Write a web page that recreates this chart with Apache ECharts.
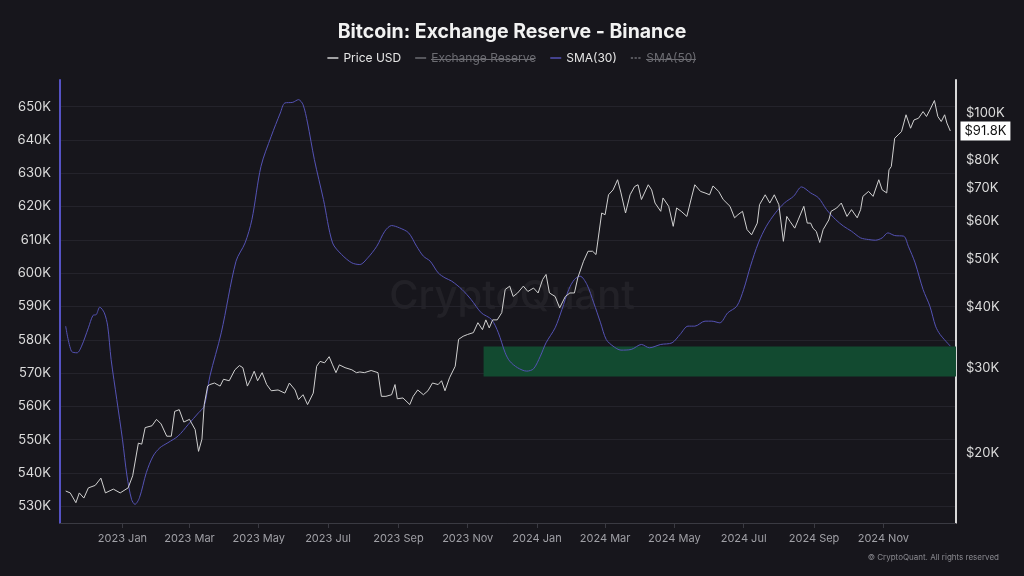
<!DOCTYPE html>
<html>
<head>
<meta charset="utf-8">
<script src="https://cdn.jsdelivr.net/npm/echarts@6/dist/echarts.min.js"></script>
<style>
  html, body { margin: 0; padding: 0; background: #17161c; }
  #main { width: 1024px; height: 576px; }
</style>
</head>
<body>
<div id="main"></div>
<script>
var myChart = echarts.init(document.getElementById('main'));

// BTC price (USD)
var priceDates = [
    '2022-11-12','2022-11-16','2022-11-21','2022-11-24','2022-11-28','2022-12-02','2022-12-08','2022-12-13',
    '2022-12-17','2022-12-24','2022-12-30','2023-01-06','2023-01-10','2023-01-15','2023-01-18','2023-01-21',
    '2023-01-27','2023-01-31','2023-02-04','2023-02-09','2023-02-13','2023-02-16','2023-02-20','2023-02-24',
    '2023-03-01','2023-03-06','2023-03-09','2023-03-12','2023-03-14','2023-03-17','2023-03-19','2023-03-23',
    '2023-03-28','2023-03-31','2023-04-05','2023-04-10','2023-04-14','2023-04-17','2023-04-21','2023-04-24',
    '2023-04-27','2023-04-30','2023-05-04','2023-05-08','2023-05-12','2023-05-18','2023-05-24','2023-05-28',
    '2023-06-02','2023-06-05','2023-06-09','2023-06-13','2023-06-18','2023-06-21','2023-06-24','2023-06-28',
    '2023-07-02','2023-07-05','2023-07-08','2023-07-11','2023-07-16','2023-07-22','2023-07-26','2023-07-29',
    '2023-08-02','2023-08-08','2023-08-14','2023-08-17','2023-08-21','2023-08-26','2023-08-29','2023-08-31',
    '2023-09-05','2023-09-11','2023-09-14','2023-09-18','2023-09-23','2023-09-27','2023-10-01','2023-10-06',
    '2023-10-09','2023-10-12','2023-10-16','2023-10-21','2023-10-24','2023-10-28','2023-11-01','2023-11-06',
    '2023-11-10','2023-11-14','2023-11-17','2023-11-20','2023-11-23','2023-11-27','2023-12-01','2023-12-04',
    '2023-12-08','2023-12-11','2023-12-15','2023-12-20','2023-12-24','2023-12-29','2024-01-02','2024-01-06',
    '2024-01-09','2024-01-12','2024-01-17','2024-01-21','2024-01-26','2024-01-30','2024-02-03','2024-02-06',
    '2024-02-11','2024-02-15','2024-02-19','2024-02-22','2024-02-27','2024-03-01','2024-03-04','2024-03-08',
    '2024-03-12','2024-03-15','2024-03-19','2024-03-23','2024-03-27','2024-03-30','2024-04-02','2024-04-08',
    '2024-04-11','2024-04-14','2024-04-19','2024-04-21','2024-04-26','2024-04-30','2024-05-03','2024-05-07',
    '2024-05-12','2024-05-16','2024-05-19','2024-05-24','2024-05-28','2024-06-01','2024-06-04','2024-06-09',
    '2024-06-13','2024-06-19','2024-06-23','2024-06-26','2024-06-30','2024-07-04','2024-07-08','2024-07-13',
    '2024-07-15','2024-07-20','2024-07-24','2024-07-28','2024-08-01','2024-08-05','2024-08-08','2024-08-11',
    '2024-08-15','2024-08-18','2024-08-23','2024-08-26','2024-08-29','2024-08-31','2024-09-03','2024-09-06',
    '2024-09-09','2024-09-14','2024-09-16','2024-09-21','2024-09-25','2024-09-30','2024-10-04','2024-10-09',
    '2024-10-12','2024-10-14','2024-10-19','2024-10-23','2024-10-28','2024-10-31','2024-11-04','2024-11-06',
    '2024-11-08','2024-11-11','2024-11-14','2024-11-17','2024-11-21','2024-11-25','2024-11-28','2024-12-02',
    '2024-12-06','2024-12-09','2024-12-12','2024-12-16','2024-12-19','2024-12-22','2024-12-25','2024-12-27',
    '2024-12-30'
];
var priceUsd = [
    16750,16600,15850,16600,16200,17000,17200,17800,
    16600,16900,16600,17000,18000,21000,20900,22600,
    22800,23500,23000,21700,21700,24400,24600,23200,
    23500,22400,20200,21400,25200,27500,27700,27900,
    27500,28400,28200,29700,30300,30000,27500,28400,
    29500,28200,29300,27700,26900,27000,26600,27900,
    27000,25800,26400,25200,26600,30200,30900,30700,
    31600,30400,29300,30400,30000,29700,29300,29400,
    29300,29600,29300,26200,26200,26400,27700,25900,
    26000,25200,26200,27000,26400,26900,27900,27700,
    28200,26900,28600,30200,34300,34800,35100,35400,
    37100,35900,37600,36200,37600,37600,38900,43400,
    44100,42000,42700,44100,43000,43700,42700,45500,
    46600,42700,42000,39800,42000,42700,42700,45900,
    49600,52000,52000,51200,62300,61800,67900,69500,
    72900,68500,62300,67900,70600,71200,66400,71200,
    69500,65300,62800,66900,64300,58500,63800,62800,
    61300,66900,71200,69000,68500,67900,70800,69000,
    66400,64300,60900,61800,62800,57600,56200,59400,
    64800,67900,65300,67900,64800,54500,61300,59800,
    58000,60300,64300,59400,59400,58000,57100,54200,
    57600,60300,62800,63800,65300,61300,63300,60900,
    63300,67400,69000,67400,72900,69500,68500,76400,
    77600,88700,90100,91500,99100,93000,96700,97500,
    100600,98300,101400,106000,98300,96000,99100,95300,
    91800
];

// Binance exchange reserve, 30-day SMA (BTC)
var smaDates = [
    '2022-11-12','2022-11-17','2022-11-22','2022-11-26','2022-12-02','2022-12-06','2022-12-09','2022-12-12',
    '2022-12-16','2022-12-19','2022-12-22','2022-12-27','2023-01-01','2023-01-05','2023-01-09','2023-01-12',
    '2023-01-16','2023-01-22','2023-01-28','2023-02-03','2023-02-10','2023-02-19','2023-02-28','2023-03-09',
    '2023-03-14','2023-03-19','2023-03-29','2023-04-11','2023-04-19','2023-04-25','2023-05-03','2023-05-12',
    '2023-05-20','2023-05-24','2023-05-31','2023-06-05','2023-06-09','2023-06-13','2023-06-19','2023-06-27',
    '2023-07-05','2023-07-13','2023-07-22','2023-07-29','2023-08-05','2023-08-13','2023-08-20','2023-08-26',
    '2023-09-02','2023-09-10','2023-09-17','2023-09-23','2023-09-29','2023-10-06','2023-10-12','2023-10-18',
    '2023-10-27','2023-11-04','2023-11-13','2023-11-22','2023-11-28','2023-12-04','2023-12-08','2023-12-15',
    '2023-12-23','2023-12-29','2024-01-04','2024-01-09','2024-01-17','2024-01-23','2024-01-29','2024-02-03',
    '2024-02-08','2024-02-14','2024-02-20','2024-02-26','2024-03-02','2024-03-08','2024-03-15','2024-03-24',
    '2024-04-02','2024-04-09','2024-04-19','2024-04-29','2024-05-06','2024-05-13','2024-05-19','2024-05-28',
    '2024-06-03','2024-06-10','2024-06-17','2024-06-25','2024-07-01','2024-07-07','2024-07-14','2024-07-21',
    '2024-07-29','2024-08-06','2024-08-14','2024-08-21','2024-08-29','2024-09-05','2024-09-12','2024-09-20',
    '2024-09-27','2024-10-04','2024-10-12','2024-10-19','2024-10-25','2024-10-31','2024-11-05','2024-11-11',
    '2024-11-19','2024-11-23','2024-11-29','2024-12-06','2024-12-12','2024-12-17','2024-12-21','2024-12-30'
];
var sma30 = [
    584100,576600,576100,578100,583600,587300,587600,589800,
    588100,584100,574100,562100,550100,539100,532100,530600,
    532600,540100,545100,547600,549100,551100,554600,558100,
    560100,569100,582100,603600,609100,616100,632100,641100,
    648100,651100,651300,652100,650600,645100,634100,622100,
    609100,605600,603100,602600,604600,608100,612600,614300,
    613600,612100,608100,605100,603600,600100,598600,597600,
    595100,592100,588100,586100,582100,576100,573600,571600,
    570600,571300,575100,579100,583600,589100,595100,598100,
    599100,596600,591100,585100,580100,578100,576900,577100,
    578600,577600,578600,579100,581600,584100,584100,585600,
    585600,585100,588100,590100,595100,602100,609100,614100,
    618100,621100,623100,625900,624100,622600,619100,616100,
    614100,612600,610600,610100,609900,610600,612100,611300,
    611100,608100,603100,595100,590100,584100,581600,578100
];

// highlighted support band (left axis)
var bandStart = '2023-11-15';
var bandLow = 569000;
var bandHigh = 578000;

var xMin = '2022-11-07';
var xMax = '2025-01-04';
var xTicks = ['2023-01-01','2023-03-01','2023-05-01','2023-07-01','2023-09-01','2023-11-01',
              '2024-01-01','2024-03-01','2024-05-01','2024-07-01','2024-09-01','2024-11-01'];
var leftTicks = [530000,540000,550000,560000,570000,580000,590000,600000,610000,620000,630000,640000,650000];
var rightTicks = [20000,30000,40000,50000,60000,70000,80000,100000];

var monthNames = ['Jan','Feb','Mar','Apr','May','Jun','Jul','Aug','Sep','Oct','Nov','Dec'];

function ts(d) {
    var p = d.split('-');
    return Date.UTC(+p[0], +p[1] - 1, +p[2]);
}
function zip(a, b) {
    return a.map(function (d, i) { return [ts(d), b[i]]; });
}

var lastPrice = priceUsd[priceUsd.length - 1];
var xTickTs = xTicks.map(ts);

var option = {
    backgroundColor: '#17161c',
    animation: false,
    title: {
        text: 'Bitcoin: Exchange Reserve - Binance',
        left: 'center',
        top: 17,
        textStyle: { color: '#f2f2f2', fontSize: 19.5, fontWeight: 'bold', fontFamily: 'Inter' }
    },
    legend: {
        top: 52,
        left: 'center',
        padding: 0,
        itemGap: 14,
        itemWidth: 11,
        itemHeight: 1.5,
        inactiveColor: '#6c6c72',
        textStyle: { color: '#e6e6e6', fontSize: 12, fontFamily: 'Inter' },
        selected: { 'Exchange Reserve': false, 'SMA(50)': false },
        data: [
            { name: 'Price USD', icon: 'rect' },
            { name: 'Exchange Reserve', icon: 'rect' },
            { name: 'SMA(30)', icon: 'rect' },
            { name: 'SMA(50)', icon: 'path://M0,0h3v2h-3zM5,0h3v2h-3zM10,0h3v2h-3z' }
        ]
    },
    graphic: [
        {
            type: 'text', left: 'center', top: 277, z: 0, silent: true,
            style: { text: 'CryptoQuant', fill: 'rgba(255,255,255,0.05)', font: '500 40px Inter' }
        },
        {
            type: 'text', right: 25, top: 554, silent: true,
            style: { text: '\u00a9 CryptoQuant. All rights reserved', fill: '#8a8a90', font: '8px Inter' }
        },
        // strike-through on the hidden legend entries
        { type: 'line', shape: { x1: 431, y1: 59.5, x2: 534, y2: 59.5 }, style: { stroke: '#6c6c72', lineWidth: 1 } },
        { type: 'line', shape: { x1: 646, y1: 59.5, x2: 696, y2: 59.5 }, style: { stroke: '#6c6c72', lineWidth: 1 } }
    ],
    grid: { left: 60, right: 68, top: 80, bottom: 53 },
    xAxis: {
        type: 'value',
        min: ts(xMin),
        max: ts(xMax),
        axisLine: { show: true, lineStyle: { color: '#3a3a42' } },
        axisTick: {
            show: true, length: 5, lineStyle: { color: '#3a3a42' },
            customValues: xTickTs
        },
        splitLine: { show: false },
        axisLabel: {
            color: '#a0a0a6', fontSize: 11, fontFamily: 'Inter', margin: 10,
            customValues: xTickTs,
            formatter: function (v) {
                var d = new Date(v);
                return d.getUTCFullYear() + ' ' + monthNames[d.getUTCMonth()];
            }
        }
    },
    yAxis: [
        {
            type: 'value',
            position: 'left',
            min: 525000,
            max: 658000,
            axisLine: { show: true, lineStyle: { color: '#5552c4', width: 2 } },
            axisTick: { show: false, customValues: leftTicks },
            splitLine: { show: true, lineStyle: { color: '#24232b', width: 1 } },
            axisLabel: {
                color: '#dcdcdc', fontSize: 13, fontFamily: 'Inter', margin: 9,
                customValues: leftTicks,
                formatter: function (v) { return Math.round(v / 1000) + 'K'; }
            }
        },
        {
            type: 'log',
            position: 'right',
            min: 14400,
            max: 116800,
            axisLine: { show: true, lineStyle: { color: '#d8d8d8', width: 2 } },
            axisTick: { show: false, customValues: rightTicks },
            splitLine: { show: false },
            axisLabel: {
                color: '#dcdcdc', fontSize: 13, fontFamily: 'Inter', margin: 10,
                customValues: rightTicks,
                formatter: function (v) { return '$' + Math.round(v / 1000) + 'K'; }
            }
        }
    ],
    series: [
        {
            name: 'Price USD',
            type: 'line',
            yAxisIndex: 1,
            data: zip(priceDates, priceUsd),
            showSymbol: false,
            z: 4,
            itemStyle: { color: '#d0d0d0' },
            lineStyle: { color: '#d0d0d0', width: 1 },
            markPoint: {
                symbol: 'rect',
                symbolSize: 1,
                silent: true,
                itemStyle: { color: 'rgba(0,0,0,0)' },
                label: {
                    show: true,
                    position: 'right',
                    distance: 4,
                    backgroundColor: '#ffffff',
                    color: '#111111',
                    fontSize: 13,
                    fontFamily: 'Inter',
                    padding: [3, 4],
                    formatter: '$' + (lastPrice / 1000).toFixed(1) + 'K'
                },
                data: [{ coord: [ts(xMax), lastPrice] }]
            }
        },
        {
            name: 'Exchange Reserve',
            type: 'line',
            yAxisIndex: 0,
            data: [],
            showSymbol: false,
            itemStyle: { color: '#9a9aa0' }
        },
        {
            name: 'SMA(30)',
            type: 'line',
            yAxisIndex: 0,
            data: zip(smaDates, sma30),
            showSymbol: false,
            smooth: 0.3,
            z: 3,
            itemStyle: { color: '#5452b4' },
            lineStyle: { color: '#5452b4', width: 1 },
            markArea: {
                silent: true,
                itemStyle: { color: '#124a30' },
                data: [[
                    { xAxis: ts(bandStart), yAxis: bandHigh },
                    { xAxis: ts(xMax), yAxis: bandLow }
                ]]
            }
        },
        {
            name: 'SMA(50)',
            type: 'line',
            yAxisIndex: 0,
            data: [],
            showSymbol: false,
            itemStyle: { color: '#9a9aa0' },
            lineStyle: { type: 'dashed' }
        }
    ]
};

myChart.setOption(option);
</script>
</body>
</html>
